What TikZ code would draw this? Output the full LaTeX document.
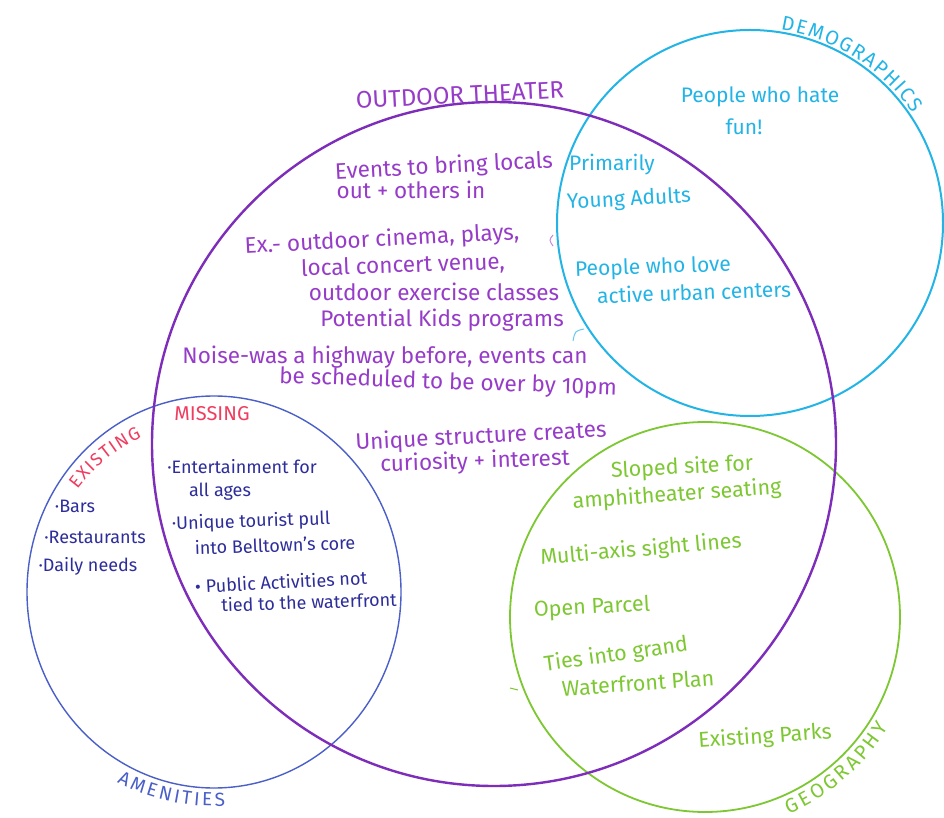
\documentclass[tikz,border=0pt]{standalone}
\usepackage{fontspec}
\setmainfont{Fira Sans}
\usetikzlibrary{decorations.text}

\definecolor{theater}{RGB}{125,45,185}
\definecolor{theatertext}{RGB}{150,60,200}
\definecolor{demo}{RGB}{35,180,230}
\definecolor{geo}{RGB}{125,200,50}
\definecolor{amen}{RGB}{75,95,200}
\definecolor{amentext}{RGB}{45,45,155}
\definecolor{flag}{RGB}{240,60,95}

\begin{document}
\begin{tikzpicture}[x=1pt,y=1pt,
  note/.style={inner sep=0pt, anchor=center},
  theaternote/.style={note, text=theatertext, font=\fontsize{22.5}{26}\selectfont},
  demonote/.style={note, text=demo, font=\fontsize{21}{24}\selectfont},
  geonote/.style={note, text=geo, font=\fontsize{21.5}{25}\selectfont},
  amennote/.style={note, text=amentext, font=\fontsize{18}{21}\selectfont},
  flagnote/.style={note, text=flag, font=\fontsize{20}{23}\selectfont},
  arclabel/.style={decorate, decoration={text along path, text align={fit to path}, text={#1}}}
]
\fill[white] (0,0) rectangle (944,817);
\useasboundingbox (0,0) rectangle (944,817);

% the four sets
\draw[amen, line width=1.4pt] (214,225) ellipse[x radius=187, y radius=196];
\draw[geo, line width=1.8pt] (705,200) circle[radius=195];
\draw[demo, line width=2pt] (750,594) circle[radius=193];
\draw[theater, line width=2.4pt] (494,373) circle[radius=342];

% set titles
\node[note, text=theatertext, font=\fontsize{24}{28}\selectfont, rotate=3] (title-theater) at (460,722) {OUTDOOR THEATER};
\path[arclabel={|\color{demo}\fontsize{20}{23}\selectfont|DEMOGRAPHICS}]
  (750,594) ++(81:196) arc[start angle=81, end angle=34, radius=196];
\path[arclabel={|\color{geo}\fontsize{20}{23}\selectfont|GEOGRAPHY}]
  (705,200) ++(-67:214) arc[start angle=-67, end angle=-31, radius=214];
\path[arclabel={|\color{amen}\fontsize{19}{22}\selectfont|AMENITIES}]
  (214,225) ++(-117:214) arc[start angle=-117, end angle=-87, radius=214];
\path[arclabel={|\color{flag}\fontsize{18}{21}\selectfont|EXISTING}]
  (214,225) ++(143:171) arc[start angle=143, end angle=115, radius=171];

% outdoor theater notes
\node[theaternote, rotate=3] (t1) at (444,650) {Events to bring locals};
\node[theaternote] (t2) at (411,627) {out + others in};
\node[theaternote, rotate=3] (t3) at (382,577) {Ex.- outdoor cinema, plays,};
\node[theaternote, rotate=2] (t4) at (403,551) {local concert venue,};
\node[theaternote] (t5) at (434,525) {outdoor exercise classes};
\node[theaternote] (t6) at (442,497) {Potential Kids programs};
\node[theaternote] (t7) at (385,460) {Noise-was a highway before, events can};
\node[theaternote, rotate=-2] (t8) at (448,434) {be scheduled to be over by 10pm};
\node[theaternote, rotate=3] (t9) at (481,380) {Unique structure creates};
\node[theaternote, rotate=2] (t10) at (475,355) {curiosity + interest};

% demographics notes
\node[demonote] (d1) at (760,720) {People who hate};
\node[demonote] (d2) at (744,690) {fun!};
\node[demonote] (d3) at (612,652) {Primarily};
\node[demonote, rotate=3] (d4) at (629,617) {Young Adults};
\node[demonote, rotate=2] (d5) at (653,549) {People who love};
\node[demonote, rotate=2] (d6) at (694,525) {active urban centers};

% amenities notes
\node[flagnote] (missing) at (212,403) {MISSING};
\node[amennote] (a1) at (75,311) {·Bars};
\node[amennote] (a2) at (95,280) {·Restaurants};
\node[amennote] (a3) at (88,251) {·Daily needs};
\node[amennote] (m1) at (242,350) {·Entertainment for};
\node[amennote] (m2) at (220,325) {all ages};
\node[amennote, rotate=2] (m3) at (251,295) {·Unique tourist pull};
\node[amennote, rotate=2] (m4) at (275,272) {into Belltown's core};
\node[amennote, rotate=3] (m5) at (281,235) {• Public Activities not};
\node[amennote, rotate=2] (m6) at (309,215) {tied to the waterfront};

% geography notes
\node[geonote, rotate=3] (g1) at (682,349) {Sloped site for};
\node[geonote, rotate=4] (g2) at (677,322) {amphitheater seating};
\node[geonote, rotate=5] (g3) at (641,267) {Multi-axis sight lines};
\node[geonote, rotate=3] (g4) at (592,209) {Open Parcel};
\node[geonote, rotate=8] (g5) at (616,162) {Ties into grand};
\node[geonote, rotate=4] (g6) at (638,134) {Waterfront Plan};
\node[geonote, rotate=4] (g7) at (765,80) {Existing Parks};

% stray marker strokes
\draw[theatertext!60, line width=1pt] (553,582) .. controls (549,577) .. (553,571);
\draw[demo!70, line width=1pt] (584,488) .. controls (575,486) .. (573,476);
\draw[geo, line width=1pt] (510,129) -- (518,127);
\end{tikzpicture}
\end{document}
